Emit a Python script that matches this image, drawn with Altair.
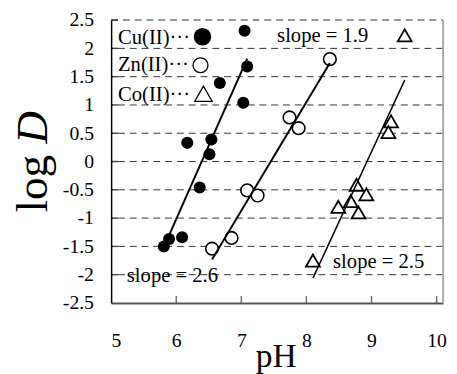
import altair as alt
import pandas as pd

# ---- data ----
cu_ph = [7.05, 7.09, 6.67, 7.03, 6.17, 6.54, 6.51, 6.36, 5.89, 6.09, 5.81]
cu_logd = [2.31, 1.68, 1.39, 1.04, 0.33, 0.39, 0.13, -0.46, -1.37, -1.34, -1.50]
zn_ph = [8.36, 7.74, 7.88, 7.09, 7.25, 6.85, 6.55]
zn_logd = [1.81, 0.78, 0.59, -0.51, -0.60, -1.35, -1.54]
co_ph = [9.51, 9.30, 9.26, 8.77, 8.92, 8.68, 8.49, 8.80, 8.10]
co_logd = [2.23, 0.71, 0.52, -0.41, -0.58, -0.70, -0.80, -0.90, -1.75]

cu_fit_ph = [5.90, 7.09]
cu_fit_logd = [-1.28, 1.82]
zn_fit_ph = [6.55, 8.36]
zn_fit_logd = [-1.73, 1.74]
co_fit_ph = [8.10, 9.51]
co_fit_logd = [-2.06, 1.44]

x_ticks = [5, 6, 7, 8, 9, 10]
y_ticks = [-2.5, -2, -1.5, -1, -0.5, 0, 0.5, 1, 1.5, 2, 2.5]
grid_vals = [-2, -1.5, -1, -0.5, 0, 0.5, 1, 1.5, 2]

W, H = 338, 288
FONT = "Liberation Serif"

xs = alt.Scale(domain=[5, 10.1], nice=False, zero=False)
ys = alt.Scale(domain=[-2.5, 2.5], nice=False, zero=False)


def df(x, y):
    return pd.DataFrame({"pH": x, "logD": y})


X = alt.X(
    "pH:Q",
    scale=xs,
    axis=alt.Axis(
        values=x_ticks, tickSize=0, labelPadding=28, labelOverlap=False,
        domainColor="#555", domainWidth=2, grid=False, title=None,
        labelExpr="'' + datum.value", labelFont=FONT, labelFontSize=20,
        labelColor="black",
    ),
)
Y = alt.Y(
    "logD:Q",
    scale=ys,
    axis=alt.Axis(
        values=y_ticks, tickSize=0, labelPadding=18, labelOverlap=False,
        domainColor="black", domainWidth=1.5, grid=False, title=None,
        labelExpr="'' + datum.value", labelFont=FONT, labelFontSize=20,
        labelColor="black",
    ),
)

one = pd.DataFrame({"a": [0]})

grid = alt.Chart(pd.DataFrame({"logD": grid_vals})).mark_rule(
    color="#333", strokeWidth=1, strokeDash=[7, 5]
).encode(y=Y)

top_border = alt.Chart(one).mark_rule(color="#999", strokeWidth=2, strokeDash=[7, 5]).encode(
    x=alt.value(0), x2=alt.value(W), y=alt.value(0)
)
right_border = alt.Chart(one).mark_rule(color="#aaa", strokeWidth=2).encode(
    x=alt.value(W), y=alt.value(0), y2=alt.value(H)
)

cu_pts = alt.Chart(df(cu_ph, cu_logd)).mark_point(
    shape="circle", filled=True, color="black", size=150, opacity=1
).encode(x=X, y=Y)
zn_pts = alt.Chart(df(zn_ph, zn_logd)).mark_point(
    shape="circle", filled=True, fill="white", stroke="black", strokeWidth=1.6,
    size=165, opacity=1
).encode(x=X, y=Y)
co_pts = alt.Chart(df(co_ph, co_logd)).mark_point(
    shape="triangle-up", filled=True, fill="white", stroke="black", strokeWidth=1.8,
    size=200, opacity=1
).encode(x=X, y=Y)

cu_line = alt.Chart(df(cu_fit_ph, cu_fit_logd)).mark_line(color="black", strokeWidth=2).encode(x=X, y=Y)
zn_line = alt.Chart(df(zn_fit_ph, zn_fit_logd)).mark_line(color="black", strokeWidth=2).encode(x=X, y=Y)
co_line = alt.Chart(df(co_fit_ph, co_fit_logd)).mark_line(color="black", strokeWidth=1.5).encode(x=X, y=Y)

xt = alt.Chart(pd.DataFrame({"pH": x_ticks[1:]})).mark_tick(
    orient="vertical", size=7, thickness=1.5, color="#333"
).encode(x=X, y=alt.value(H - 3.5))
yt = alt.Chart(pd.DataFrame({"logD": y_ticks[1:]})).mark_tick(
    orient="horizontal", size=7, thickness=1.5, color="black"
).encode(y=Y, x=alt.value(3.5))


def label(txt, px, py, size=21, align="left", baseline="middle", angle=0, style="normal"):
    kw = dict(font=FONT, fontSize=size, align=align, baseline=baseline, color="black",
              fontStyle=style)
    if angle:
        kw["angle"] = angle
    return alt.Chart(one).mark_text(**kw).encode(
        x=alt.value(px), y=alt.value(py), text=alt.value(txt)
    )


def sym(px, py, **kw):
    return alt.Chart(one).mark_point(opacity=1, **kw).encode(x=alt.value(px), y=alt.value(py))


texts = [
    label("Cu(II)\u00b7\u00b7\u00b7", 7, 18),
    label("Zn(II)\u00b7\u00b7\u00b7", 7, 46),
    label("Co(II)\u00b7\u00b7\u00b7", 7, 76),
    sym(93, 17, shape="circle", filled=True, color="black", size=320),
    sym(91, 46, shape="circle", filled=True, fill="white", stroke="black", strokeWidth=1.3, size=230),
    sym(94, 75, shape="triangle-up", filled=True, fill="white", stroke="black", strokeWidth=1.3, size=320),
    label("slope = 1.9", 169, 16),
    label("slope = 2.6", 16, 261),
    label("slope = 2.5", 226, 246),
    label("log", -79, 196, size=46, angle=270),
    label("D", -79, 126, size=46, angle=270, style="italic"),
    label("pH", 168, 353, size=34, align="center", baseline="alphabetic"),
]

chart = alt.layer(
    grid, top_border, right_border,
    cu_pts, zn_pts, co_pts,
    cu_line, zn_line, co_line,
    xt, yt, *texts,
).properties(
    width=W, height=H,
    autosize=alt.AutoSizeParams(type="none"),
    padding={"left": 105, "top": 9, "right": 6, "bottom": 69},
).configure(font=FONT).configure_view(stroke=None).configure_axis(
    labelFont=FONT, labelFontSize=20, labelColor="black"
)

chart.save("out.html", embed_options={"renderer": "svg", "actions": False})
